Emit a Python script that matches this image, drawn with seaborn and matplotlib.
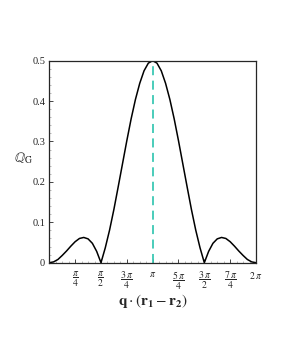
import numpy as np
import pandas as pd
import matplotlib
matplotlib.use("Agg")
import matplotlib.pyplot as plt
import seaborn as sns

# sample positions in units of pi (step pi/24)
q_over_pi = [k / 24 for k in range(49)]
# Q_G values (symmetric about pi)
half = [0.000, 0.002, 0.008, 0.018, 0.029, 0.041, 0.052, 0.060, 0.0625, 0.059,
        0.048, 0.028, 0.000, 0.037, 0.081, 0.132, 0.188, 0.245, 0.302, 0.356,
        0.404, 0.444, 0.475, 0.494, 0.500]
q_g = half + half[-2::-1]

xtick_pos = [0.25, 0.5, 0.75, 1.0, 1.25, 1.5, 1.75, 2.0]
xtick_labels = [r'$\dfrac{\pi}{4}$', r'$\dfrac{\pi}{2}$', r'$\dfrac{3\,\pi}{4}$', r'$\pi$',
                r'$\dfrac{5\,\pi}{4}$', r'$\dfrac{3\,\pi}{2}$', r'$\dfrac{7\,\pi}{4}$', r'$2\,\pi$']
ytick_pos = [0, 0.1, 0.2, 0.3, 0.4, 0.5]
ytick_labels = ["0", "0.1", "0.2", "0.3", "0.4", "0.5"]

sns.set_style("ticks")
plt.rcParams['font.family'] = ['Liberation Serif', 'DejaVu Serif']
plt.rcParams['mathtext.fontset'] = 'stix'

df = pd.DataFrame({"x": np.array(q_over_pi) * np.pi, "y": q_g})

fig = plt.figure(figsize=(2.81, 3.63), dpi=100)
ax = fig.add_axes([0.1755, 0.2763, 0.7355, 0.5565])
sns.lineplot(data=df, x="x", y="y", color="black", linewidth=1.1, ax=ax)
ax.plot([np.pi, np.pi], [0, max(q_g)], color="#3cc8b4", linestyle=(0, (5, 3)), linewidth=1.3)

ax.set_xlim(0, 2 * np.pi)
ax.set_ylim(0, 0.5)
ax.set_xticks(np.array(xtick_pos) * np.pi)
ax.set_xticklabels(xtick_labels, fontsize=7, va='top')
ax.set_yticks(ytick_pos)
ax.set_yticklabels(ytick_labels, fontsize=7.5)
ax.set_xticks(np.arange(1, 32) * np.pi / 16, minor=True)
ax.set_yticks(np.arange(0, 0.5, 0.02), minor=True)
ax.tick_params(axis='both', which='major', direction='in', length=3, width=0.6, pad=3)
ax.tick_params(axis='x', which='major', pad=5)
ax.tick_params(axis='both', which='minor', direction='in', length=1.5, width=0.4, color='#888888')
for s in ax.spines.values():
    s.set_linewidth(0.9)
    s.set_visible(True)

ax.set_xlabel(r'$\mathbf{q}\cdot\left(\mathbf{r}_\mathbf{1}-\mathbf{r}_\mathbf{2}\right)$', fontsize=11, labelpad=0)
ax.set_ylabel(r'$\mathbb{Q}_\mathrm{G}$', fontsize=10, rotation=0, labelpad=8, ha='center', va='center')
ax.yaxis.set_label_coords(-0.125, 0.52)

fig.savefig("out.png", dpi=100, facecolor="white")
